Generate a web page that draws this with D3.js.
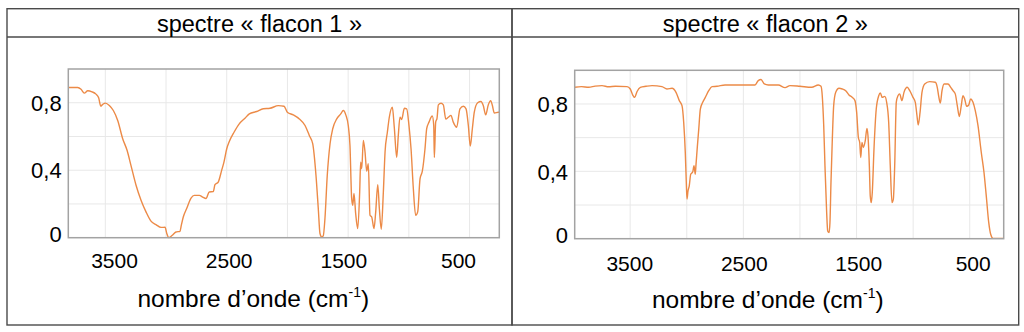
<!DOCTYPE html>
<html><head><meta charset="utf-8">
<script src="https://cdn.jsdelivr.net/npm/d3@7/dist/d3.min.js"></script>
<style>html,body{margin:0;padding:0;background:#fff}svg{display:block}</style>
</head><body>
<svg id="chart" width="1024" height="332"></svg>
<script>
// ---- data ----
const panelTitles = ["spectre « flacon 1 »", "spectre « flacon 2 »"];
const xAxisTitle = "nombre d’onde (cm";
const xAxisTitleSup = "-1";
const xTickValues = [3500, 2500, 1500, 500];
const yTickValues = [0, 0.4, 0.8];
const xGridValues = [3500, 3000, 2500, 2000, 1500, 1000, 500];
const yGridValues = [0.2, 0.4, 0.6, 0.8];

const flacon1Wavenumber = [3805,3728,3700,3673,3645,3610,3577,3555,3538,3522,3500,3467,3434,3398,3357,3321,3289,3247,3206,3165,3124,3083,3041,3008,2994,2978,2951,2918,2885,2874,2858,2830,2794,2767,2726,2698,2671,2644,2611,2597,2570,2542,2523,2500,2479,2440,2397,2350,2314,2253,2199,2144,2075,2028,2001,1952,1902,1855,1820,1792,1765,1746,1732,1718,1705,1691,1672,1649,1627,1594,1561,1540,1518,1499,1485,1471,1462,1452,1438,1421,1405,1397,1388,1375,1361,1347,1334,1320,1306,1287,1273,1256,1243,1227,1210,1196,1177,1161,1136,1120,1100,1087,1073,1059,1037,1018,999,982,963,944,927,908,889,867,853,834,807,795,790,779,768,757,735,716,696,675,653,634,606,579,551,529,510,494,477,461,433,406,387,367,346,326,313,296,263,255];
const flacon1Transmittance = [0.89,0.89,0.88,0.857,0.871,0.865,0.851,0.83,0.78,0.79,0.798,0.784,0.754,0.695,0.587,0.518,0.429,0.311,0.222,0.153,0.098,0.078,0.061,0.062,0.025,0.001,0.013,0.034,0.038,0.074,0.123,0.173,0.235,0.251,0.251,0.241,0.232,0.271,0.273,0.314,0.33,0.399,0.448,0.527,0.57,0.625,0.675,0.708,0.734,0.748,0.764,0.767,0.783,0.779,0.744,0.728,0.704,0.665,0.606,0.557,0.37,0.173,0.025,0.005,0.011,0.114,0.37,0.557,0.646,0.704,0.734,0.754,0.725,0.665,0.547,0.232,0.192,0.262,0.143,0.054,0.271,0.448,0.409,0.577,0.508,0.394,0.439,0.133,0.123,0.054,0.153,0.314,0.173,0.05,0.271,0.508,0.625,0.714,0.773,0.655,0.476,0.605,0.714,0.701,0.767,0.764,0.665,0.527,0.29,0.133,0.153,0.349,0.394,0.527,0.646,0.685,0.721,0.665,0.476,0.685,0.708,0.787,0.797,0.787,0.704,0.714,0.725,0.685,0.655,0.764,0.779,0.764,0.665,0.543,0.646,0.744,0.8,0.807,0.783,0.728,0.787,0.812,0.787,0.739,0.744,0.744];

const flacon2Wavenumber = [3990,3930,3866,3810,3749,3690,3631,3528,3499,3478,3460,3440,3410,3360,3307,3219,3175,3130,3095,3066,3042,3027,3013,3004,2998,2989,2978,2965,2947,2936,2925,2918,2907,2894,2880,2859,2836,2806,2777,2733,2662,2574,2485,2397,2368,2344,2315,2280,2191,2132,2088,2000,1896,1838,1814,1803,1790,1779,1764,1755,1743,1735,1726,1714,1702,1684,1655,1626,1596,1567,1537,1514,1499,1484,1472,1463,1452,1440,1423,1408,1399,1387,1379,1370,1361,1346,1326,1304,1290,1273,1251,1234,1216,1202,1187,1175,1163,1149,1134,1119,1099,1081,1052,1030,1001,981,966,955,939,922,898,854,804,787,774,760,745,727,692,668,648,628,610,592,575,560,545,527,509,492,471,451,427,398,374,354,332,315,294,200];
const flacon2Transmittance = [0.899,0.903,0.899,0.906,0.909,0.902,0.905,0.903,0.889,0.854,0.839,0.873,0.899,0.905,0.909,0.903,0.889,0.893,0.869,0.82,0.79,0.69,0.512,0.333,0.235,0.284,0.314,0.383,0.397,0.433,0.383,0.443,0.542,0.651,0.77,0.81,0.839,0.879,0.903,0.905,0.913,0.913,0.913,0.913,0.939,0.945,0.919,0.913,0.913,0.897,0.909,0.905,0.899,0.913,0.905,0.849,0.671,0.433,0.155,0.046,0.036,0.095,0.333,0.592,0.79,0.869,0.893,0.889,0.879,0.854,0.839,0.82,0.75,0.601,0.571,0.482,0.571,0.542,0.582,0.655,0.611,0.433,0.254,0.214,0.274,0.532,0.77,0.849,0.865,0.839,0.845,0.81,0.69,0.433,0.214,0.235,0.433,0.81,0.849,0.86,0.82,0.869,0.899,0.879,0.839,0.81,0.73,0.675,0.75,0.869,0.919,0.933,0.929,0.899,0.845,0.806,0.879,0.919,0.919,0.899,0.879,0.86,0.79,0.726,0.79,0.849,0.83,0.786,0.794,0.83,0.81,0.76,0.671,0.512,0.393,0.254,0.095,0.026,0.002,0.002];

// ---- layout ----
const panels = [
  { title: panelTitles[0], wn: flacon1Wavenumber, tr: flacon1Transmittance,
    box: [7, 8.7, 512, 325], headerY: 37,
    plot: { l: 68.3, r: 499.3, t: 69, b: 237.7 }, xDomain: [3805, 255],
    labelRange: [114, 458], tickBaseline: 268.3, axisTitleX: 253.3, axisTitleY: 306.7, yLabelRight: 61.7 },
  { title: panelTitles[1], wn: flacon2Wavenumber, tr: flacon2Transmittance,
    box: [512, 8.7, 1018.7, 325], headerY: 37,
    plot: { l: 574.7, r: 1003.7, t: 70.3, b: 238.7 }, xDomain: [3990, 200],
    labelRange: [629.3, 972.7], tickBaseline: 271, axisTitleX: 767.8, axisTitleY: 308, yLabelRight: 568 }
];

const FONT = "'Liberation Sans', Arial, Helvetica, sans-serif";
const LINE = "#EC8A47";
const svg = d3.select("#chart");
const fmtY = d => d === 0 ? "0" : String(d).replace(".", ",");

panels.forEach(p => {
  const g = svg.append("g");
  const [bx0, by0, bx1, by1] = p.box;
  // panel frame
  g.append("rect").attr("x", bx0).attr("y", by0).attr("width", bx1 - bx0).attr("height", by1 - by0)
    .attr("fill", "none").attr("stroke", "#4a4a4a").attr("stroke-width", 1.4);
  g.append("line").attr("x1", bx0).attr("x2", bx1).attr("y1", p.headerY).attr("y2", p.headerY)
    .attr("stroke", "#4a4a4a").attr("stroke-width", 1.4);
  g.append("text").attr("x", (bx0 + bx1) / 2).attr("y", 32).attr("text-anchor", "middle")
    .attr("font-family", FONT).attr("font-size", 23.5).attr("fill", "#000").text(p.title);

  const x = d3.scaleLinear().domain(p.xDomain).range([p.plot.l, p.plot.r]);
  const y = d3.scaleLinear().domain([0, 1]).range([p.plot.b, p.plot.t]);
  const xl = d3.scaleLinear().domain([xTickValues[0], xTickValues[xTickValues.length - 1]]).range(p.labelRange);

  // grid
  g.append("g").selectAll("line.v").data(xGridValues).join("line")
    .attr("x1", d => x(d)).attr("x2", d => x(d)).attr("y1", p.plot.t).attr("y2", p.plot.b)
    .attr("stroke", "#e8e8e8").attr("stroke-width", 1);
  g.append("g").selectAll("line.h").data(yGridValues).join("line")
    .attr("y1", d => y(d)).attr("y2", d => y(d)).attr("x1", p.plot.l).attr("x2", p.plot.r)
    .attr("stroke", "#e8e8e8").attr("stroke-width", 1);

  // spectrum
  const pts = p.wn.map((w, i) => [w, p.tr[i]]);
  g.append("path").datum(pts)
    .attr("d", d3.line().x(d => x(d[0])).y(d => y(d[1])).curve(d3.curveMonotoneX))
    .attr("fill", "none").attr("stroke", LINE).attr("stroke-width", 1.4).attr("stroke-linejoin", "round");

  // plot frame
  g.append("rect").attr("x", p.plot.l).attr("y", p.plot.t).attr("width", p.plot.r - p.plot.l).attr("height", p.plot.b - p.plot.t)
    .attr("fill", "none").attr("stroke", "#a3a3a3").attr("stroke-width", 1.5);

  // x axis labels
  const xa = g.append("g").attr("transform", `translate(0,${p.tickBaseline})`)
    .call(d3.axisBottom(xl).tickValues(xTickValues).tickSize(0).tickPadding(0).tickFormat(d3.format("d")));
  xa.select(".domain").remove();
  xa.selectAll("text").attr("y", 0).attr("dy", null).attr("font-family", FONT).attr("font-size", 21).attr("fill", "#000");

  // y axis labels
  const ya = g.append("g").attr("transform", `translate(${p.yLabelRight},0)`)
    .call(d3.axisLeft(y).tickValues(yTickValues).tickSize(0).tickPadding(0).tickFormat(fmtY));
  ya.select(".domain").remove();
  ya.selectAll("text").attr("x", 0).attr("dy", d => d === 0 ? "0.17em" : "0.35em")
    .attr("font-family", FONT).attr("font-size", 22).attr("fill", "#000");

  // axis title
  const t = g.append("text").attr("x", p.axisTitleX).attr("y", p.axisTitleY).attr("text-anchor", "middle")
    .attr("font-family", FONT).attr("font-size", 24.5).attr("fill", "#000");
  t.append("tspan").text(xAxisTitle);
  t.append("tspan").attr("font-size", 14).attr("dy", -10).text(xAxisTitleSup);
  t.append("tspan").attr("dy", 10).text(")");
});
</script>
</body></html>
